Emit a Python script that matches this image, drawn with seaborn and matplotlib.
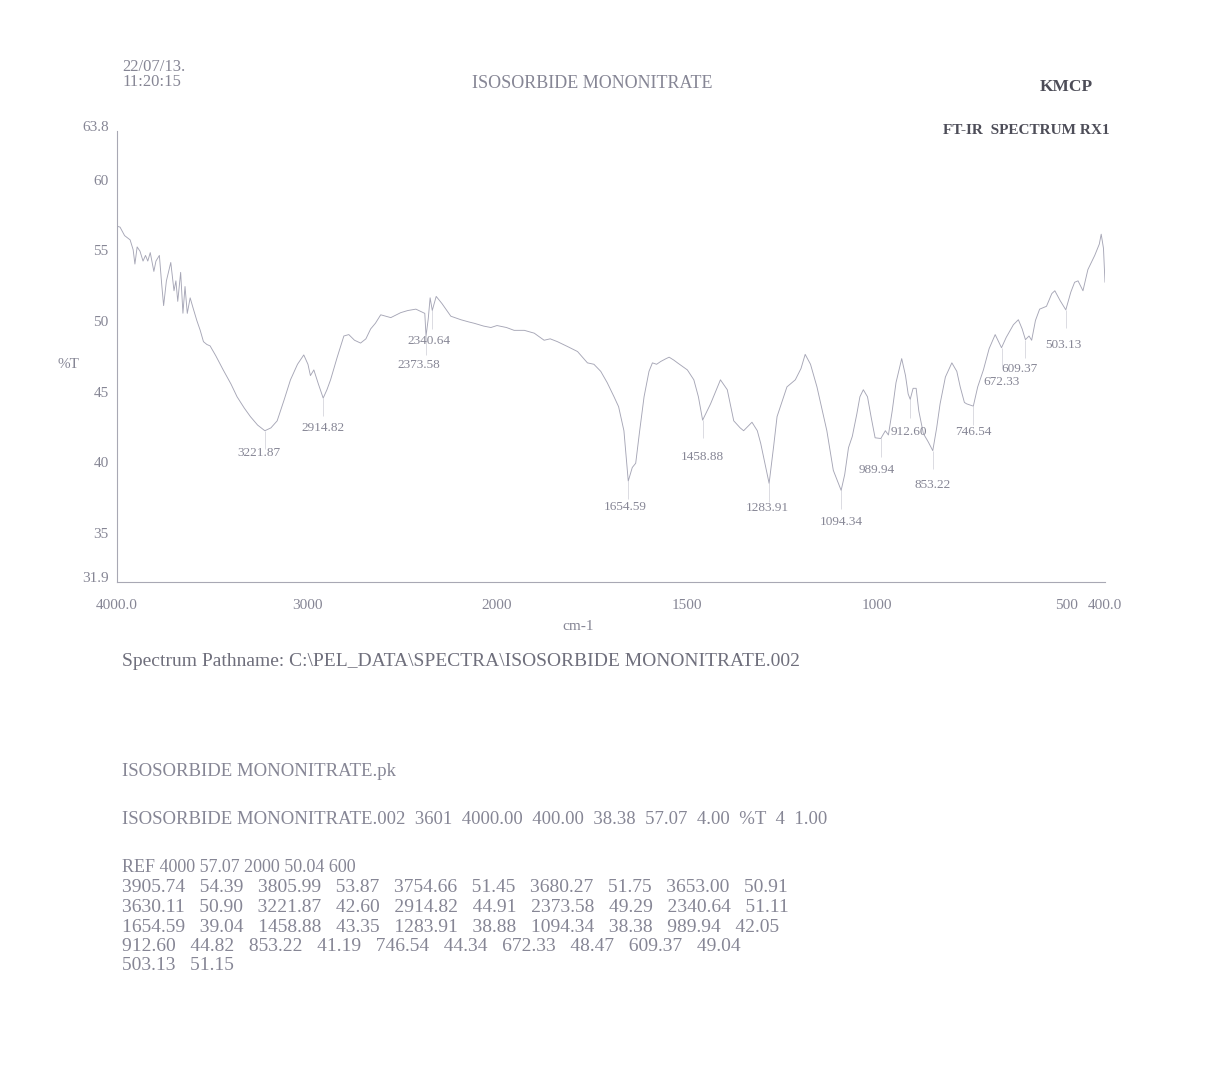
import numpy as np
import pandas as pd
import matplotlib
matplotlib.use('Agg')
import matplotlib.pyplot as plt
import seaborn as sns

W, H = 1207, 1084

# spectrum trace (cm-1, %T)
WAVENUMBER = [
    4000, 3984, 3960, 3931, 3915, 3905.74, 3894, 3879, 3863, 3850, 3838, 3825,
    3805.99, 3795, 3777, 3765, 3754.66, 3740, 3717, 3700, 3690, 3680.27, 3665,
    3653.00, 3642, 3630.11, 3615, 3600, 3580, 3562, 3545, 3527, 3510, 3480,
    3441, 3400, 3368, 3330, 3298, 3260, 3221.87, 3190, 3157, 3120, 3087, 3050,
    3017, 2995, 2982, 2964, 2940, 2914.82, 2895, 2876, 2841, 2806, 2780, 2750,
    2718, 2690, 2665, 2640, 2612, 2585, 2559, 2530, 2507, 2470, 2427, 2395,
    2380, 2373.58, 2362, 2352, 2340.64, 2320, 2290, 2269, 2243, 2190, 2150,
    2120, 2070, 2032, 2000, 1975, 1955, 1928, 1902, 1876, 1860, 1841, 1814,
    1788, 1762, 1745, 1727, 1710, 1692, 1680, 1666, 1654.59, 1644, 1635, 1625,
    1613, 1600, 1591, 1580, 1569, 1555, 1547, 1535, 1525, 1499, 1482, 1470,
    1458.88, 1438, 1412, 1394, 1377, 1360, 1351, 1329, 1315, 1306, 1283.91,
    1272, 1263, 1237, 1215, 1200, 1189, 1175, 1158, 1132, 1115, 1094.34, 1085,
    1075, 1065, 1053, 1045, 1036, 1025, 1015, 1005, 989.94, 978, 970, 960, 950,
    935, 925, 918, 912.60, 905, 897, 890, 878, 865, 853.22, 843, 834, 820, 803,
    790, 781, 770, 764, 746.54, 735, 720, 705, 689, 672.33, 660, 641, 628, 618,
    609.37, 600, 593, 583, 572, 554, 540, 532, 518, 503.13, 490, 480, 471, 458,
    445, 427, 415, 410, 404, 400,
]
TRANSMITTANCE = [
    57.07, 57.0, 56.4, 56.1, 55.4, 54.39, 55.6, 55.3, 54.6, 55.0, 54.6, 55.2,
    53.87, 54.6, 55.0, 53.0, 51.45, 53.2, 54.5, 52.5, 53.2, 51.75, 53.8,
    50.91, 52.8, 50.90, 52.0, 51.3, 50.4, 49.7, 48.9, 48.7, 48.6, 47.9,
    46.9, 45.9, 45.0, 44.2, 43.6, 43.0, 42.60, 42.8, 43.3, 44.8, 46.2, 47.3,
    47.96, 47.3, 46.5, 46.9, 45.9, 44.91, 45.5, 46.2, 47.8, 49.3, 49.4, 49.0,
    48.8, 49.1, 49.8, 50.2, 50.8, 50.7, 50.6, 50.8, 50.95, 51.1, 51.2, 51.0,
    50.9, 49.29, 50.5, 52.0, 51.11, 52.1, 51.6, 51.2, 50.7, 50.45, 50.3,
    50.2, 50.0, 49.9, 50.04, 49.9, 49.7, 49.7, 49.5, 49.0, 49.1, 48.9, 48.55,
    48.2, 47.4, 47.3, 46.8, 46.0, 45.0, 44.3, 42.6, 39.04, 40.0, 40.3, 42.5,
    45.0, 46.8, 47.4, 47.3, 47.5, 47.7, 47.8, 47.6, 47.4, 46.9, 46.2, 45.0,
    43.35, 44.5, 46.2, 45.5, 43.3, 42.8, 42.6, 43.2, 42.6, 41.7, 38.88,
    41.5, 43.6, 45.7, 46.2, 47.0, 48.0, 47.3, 45.7, 42.6, 39.8, 38.38, 39.5,
    41.4, 42.2, 43.8, 45.0, 45.5, 45.0, 43.5, 42.1, 42.05, 42.6, 42.3, 44.0, 46.0,
    47.7, 46.5, 45.2, 44.82, 45.6, 45.6, 44.0, 42.4, 41.8, 41.19, 42.8, 44.5, 46.4, 47.4,
    46.8, 45.7, 44.6, 44.5, 44.34, 45.7, 46.9, 48.4, 49.4, 48.47, 49.2, 50.1, 50.45, 49.8,
    49.04, 49.3, 49.0, 50.4, 51.2, 51.4, 52.3, 52.5, 51.8, 51.15, 52.4, 53.1, 53.2, 52.5,
    54.0, 55.0, 55.8, 56.5, 55.5, 53.1,
]

# peak table printed under the chart
PEAK_WN = [3905.74, 3805.99, 3754.66, 3680.27, 3653.00, 3630.11, 3221.87, 2914.82,
           2373.58, 2340.64, 1654.59, 1458.88, 1283.91, 1094.34, 989.94, 912.60,
           853.22, 746.54, 672.33, 609.37, 503.13]
PEAK_T = [54.39, 53.87, 51.45, 51.75, 50.91, 50.90, 42.60, 44.91, 49.29, 51.11,
          39.04, 43.35, 38.88, 38.38, 42.05, 44.82, 41.19, 44.34, 48.47, 49.04, 51.15]
N_UNLABELLED = 6

# where each peak label sits relative to its peak (points)
LABEL_DX = [-4, 0, -5, -2.5, -2, 0, -1, 0, -3, -1, 0, 0, 0, -4, -2]
LABEL_DY = [-15.8, -21.8, -20.7, -21.8, -18.7, -26.2, -17.7, -22.7, -22.5,
            -23.8, -24.6, -18.9, -24.7, -21.0, -25.1]

X_TICKS = [4000, 3000, 2000, 1500, 1000, 500, 400]
X_TICK_LABELS = ['4000.0', '3000', '2000', '1500', '1000', '500', '400.0']
Y_TICKS = [31.9, 35, 40, 45, 50, 55, 60, 63.8]
Y_TICK_LABELS = ['31.9', '35', '40', '45', '50', '55', '60', '63.8']

LINE_C = '#a6a6b6'
TEXT_C = '#868695'
DARK_C = '#4d4d58'


def fwd(w):
    w = np.asarray(w, dtype=float)
    return np.where(w > 2000, 2000 + (w - 2000) / 2, w)


def inv(u):
    u = np.asarray(u, dtype=float)
    return np.where(u > 2000, 2000 + (u - 2000) * 2, u)


def fx(x):
    return x / W


def fy(y):
    return 1 - y / H


sns.set_style('white')
plt.rcParams['font.family'] = ['Liberation Serif', 'DejaVu Serif']

df = pd.DataFrame({'wavenumber': WAVENUMBER, 'transmittance': TRANSMITTANCE})

fig = plt.figure(figsize=(W / 100, H / 100), dpi=100)
fig.patch.set_facecolor('#FFFFFF')
ax = fig.add_axes([fx(117), fy(582), 988 / W, 451 / H])

sns.lineplot(data=df, x='wavenumber', y='transmittance', sort=False,
             estimator=None, color=LINE_C, lw=0.65, ax=ax)

ax.set_xscale('function', functions=(fwd, inv))
ax.set_xlim(4000, 400)
ax.set_ylim(31.9, 63.8)
ax.set_xticks(X_TICKS)
ax.set_xticklabels(X_TICK_LABELS)
ax.set_yticks(Y_TICKS)
ax.set_yticklabels(Y_TICK_LABELS)
ax.minorticks_off()
for lbl in ax.get_yticklabels():
    lbl.set_verticalalignment('baseline')

sns.despine(ax=ax)
for side in ['left', 'bottom']:
    ax.spines[side].set_color('#a8a8b4')
    ax.spines[side].set_linewidth(0.8)
ax.tick_params(direction='out', length=4, width=0.6, color='#a8a8b4',
               labelcolor=TEXT_C, labelsize=11)
ax.tick_params(axis='x', pad=8)
ax.tick_params(axis='y', pad=2)

ax.set_xlabel('cm-1', fontsize=11, color=TEXT_C)
ax.xaxis.set_label_coords((578 - 117) / 988, -0.085)
ax.set_ylabel('%T', fontsize=11, color=TEXT_C, rotation=0, va='center', ha='center')
ax.yaxis.set_label_coords((68 - 117) / 988, (582 - 365) / 451)

# peak labels with short drop lines
lab_wn = PEAK_WN[N_UNLABELLED:]
lab_t = PEAK_T[N_UNLABELLED:]
ax.vlines(lab_wn, np.array(lab_t) - 1.3, lab_t, color=LINE_C, lw=0.4, alpha=0.7)
for w, t, dx, dy in zip(lab_wn, lab_t, LABEL_DX, LABEL_DY):
    ax.annotate(f'{w:.2f}', (w, t), xytext=(dx, dy), textcoords='offset points',
                ha='center', va='center', fontsize=9.5, color=TEXT_C)

# header
fig.text(fx(122), fy(67), '22/07/13.', fontsize=12, color=TEXT_C, va='center')
fig.text(fx(122), fy(82), '11:20:15', fontsize=12, color=TEXT_C, va='center')
fig.text(fx(592), fy(83), 'ISOSORBIDE MONONITRATE', fontsize=13, color=TEXT_C,
         ha='center', va='center')
fig.text(fx(1066), fy(87), 'KMCP', fontsize=12.5, color=DARK_C, weight='bold',
         ha='center', va='center')
fig.text(fx(1110), fy(130), 'FT-IR  SPECTRUM RX1', fontsize=11, color=DARK_C,
         weight='bold', ha='right', va='center')

# footer
fig.text(fx(122), fy(661), 'Spectrum Pathname: C:\\PEL_DATA\\SPECTRA\\ISOSORBIDE MONONITRATE.002',
         fontsize=14, color='#6f6f7c', va='center')
fig.text(fx(122), fy(772), 'ISOSORBIDE MONONITRATE.pk', fontsize=13.5, color=TEXT_C,
         va='center')
fig.text(fx(122), fy(819),
         'ISOSORBIDE MONONITRATE.002  3601  4000.00  400.00  38.38  57.07  4.00  %T  4  1.00',
         fontsize=13.5, color=TEXT_C, va='center')
fig.text(fx(122), fy(868), 'REF 4000 57.07 2000 50.04 600', fontsize=13, color=TEXT_C,
         va='center')

pairs = [f'{w:.2f}   {t:.2f}' for w, t in zip(PEAK_WN, PEAK_T)]
rows = ['   '.join(pairs[i:i + 5]) for i in range(0, len(pairs), 5)]
for i, row in enumerate(rows):
    fig.text(fx(122), fy(888 + i * 19.5), row, fontsize=14, color=TEXT_C, va='center')

fig.savefig('out.png', dpi=100, facecolor=fig.get_facecolor())
